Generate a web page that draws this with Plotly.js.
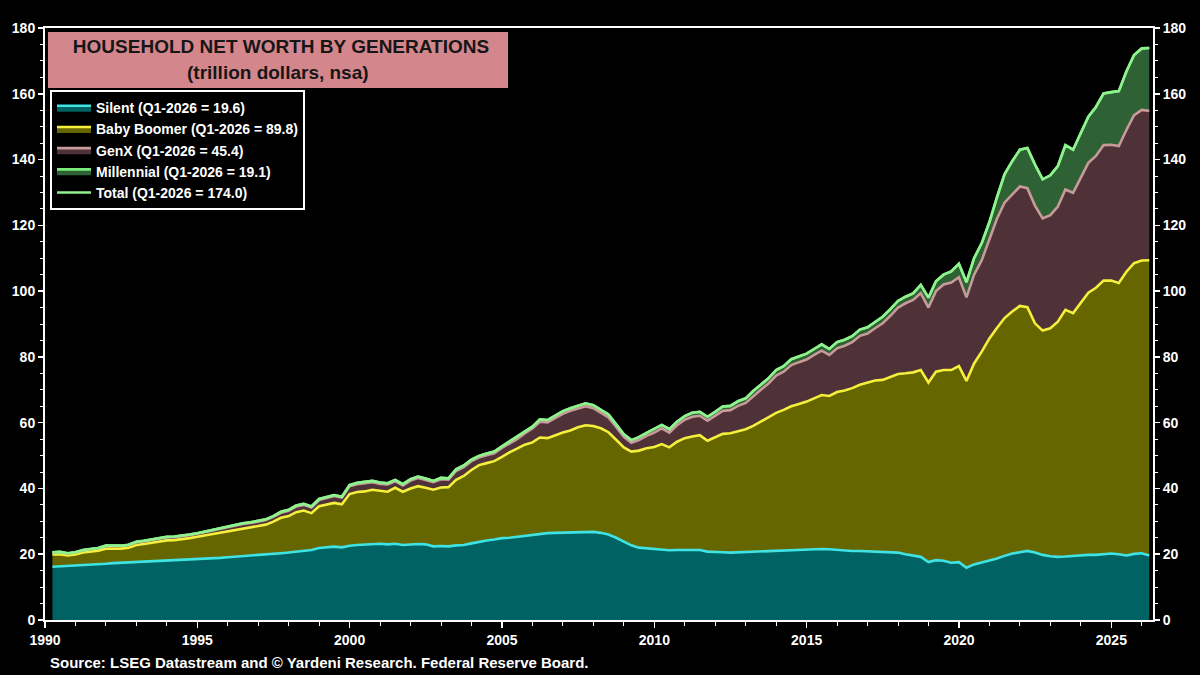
<!DOCTYPE html>
<html>
<head>
<meta charset="utf-8">
<script src="https://cdn.plot.ly/plotly-3.0.1.min.js"></script>
<style>
  html, body { margin: 0; padding: 0; background: #000; }
  #chart { width: 1200px; height: 675px; }
</style>
</head>
<body>
<div id="chart"></div>
<script>
// Quarterly observations, Q1-1990 .. Q1-2026 (quarter-end dates)
const firstYear = 1990;
const lastYear = 2026;
const quarterEnds = ['03-31', '06-30', '09-30', '12-31'];

// Trillion dollars, nsa
const silent = [
  16.2,16.3,16.4,16.5, 16.7,16.9,17.0,17.1, 17.3,17.4,17.5,17.6, 17.8,17.9,18.0,18.1,
  18.2,18.3,18.4,18.5, 18.6,18.8,18.9,19.1, 19.2,19.4,19.6,19.8, 19.9,20.1,20.3,20.5,
  20.8,21.2,21.3,21.9, 22.0,22.3,22.1,22.6, 22.8,23.0,23.2,23.2, 23.0,23.2,22.8,23.0,
  23.1,23.0,22.4,22.5, 22.4,22.7,22.8,23.3, 23.8,24.2,24.5,24.9, 25.0,25.3,25.5,25.8,
  26.1,26.4,26.5,26.6, 26.6,26.8,26.9,26.8, 26.5,26.0,25.0,23.8, 22.7,22.0,21.8,21.7,
  21.6,21.2,21.3,21.3, 21.3,21.3,20.8,20.8, 20.6,20.5,20.6,20.7, 20.7,20.8,20.9,21.0,
  21.2,21.4,21.5,21.6, 21.6,21.6,21.5,21.3, 21.1,21.0,21.0,20.9, 20.9,20.8,20.6,20.5,
  20.0,19.6,19.2,17.6, 18.2,18.0,17.4,17.6, 15.9,16.9,17.5,18.0, 18.7,19.5,20.2,20.6,
  21.0,20.5,19.8,19.4, 19.2,19.3,19.5,19.6, 19.8,19.8,20.0,20.2, 20.0,19.6,20.1,20.3,
  19.6
];
const babyBoomer = [
  3.7,3.7,3.2,3.4, 3.8,3.8,4.1,4.6, 4.4,4.3,4.5,5.2, 5.3,5.6,5.8,6.1,
  6.1,6.2,6.5,6.8, 7.1,7.3,7.7,7.9, 8.2,8.5,8.6,8.8, 9.1,9.8,10.8,11.1,
  12.0,12.1,11.2,12.7, 13.0,13.3,13.1,15.7, 16.1,16.1,16.4,16.1, 16.0,17.0,16.2,17.0,
  17.6,17.2,17.2,17.8, 18.0,19.9,21.0,22.3, 23.3,23.5,23.8,24.7, 26.0,26.8,27.8,28.2,
  29.4,28.9,29.7,30.4, 31.0,31.8,32.3,32.2, 31.8,31.1,29.8,28.7, 28.5,29.5,30.4,30.9,
  31.9,31.3,32.9,34.0, 34.5,34.9,33.7,34.8, 36.0,36.3,36.8,37.3, 38.3,39.5,40.6,42.0,
  42.7,43.6,44.2,44.8, 45.8,46.8,46.6,48.0, 48.7,49.5,50.5,51.3, 51.9,52.2,53.2,54.3,
  55.0,55.7,56.8,54.6, 57.3,58.0,58.6,59.6, 56.8,61.1,64.1,67.6, 70.1,72.3,73.6,74.9,
  74.1,69.7,68.2,69.3, 71.5,75.0,73.8,76.9, 79.7,81.2,83.2,83.0, 82.5,86.3,88.4,89.0,
  89.8
];
const genX = [
  0.6,0.6,0.6,0.6, 0.7,0.7,0.7,0.8, 0.8,0.8,0.8,0.8, 0.8,0.8,0.9,0.9,
  0.9,0.9,0.9,0.9, 1.0,1.0,1.1,1.2, 1.2,1.3,1.3,1.4, 1.4,1.5,1.5,1.6,
  1.7,1.7,1.7,1.9, 2.0,2.1,2.0,2.4, 2.4,2.4,2.3,2.1, 2.2,2.0,1.9,2.4,
  2.5,2.4,2.3,2.5, 2.3,2.7,2.7,2.7, 2.3,2.4,2.4,2.7, 2.6,2.9,3.4,4.2,
  4.8,4.8,5.2,5.7, 6.0,5.7,5.8,5.4, 4.8,4.5,3.9,3.2, 2.7,3.2,3.8,4.4,
  4.8,4.5,5.0,5.6, 6.0,5.9,6.1,6.4, 7.0,7.0,7.7,8.0, 9.1,9.7,10.4,11.3,
  11.6,12.5,12.7,12.8, 13.2,13.5,12.5,13.3, 13.6,14.0,14.9,14.9, 15.9,17.2,18.7,20.2,
  21.3,22.0,23.4,22.8, 24.5,26.0,26.6,27.0, 25.4,27.0,27.8,29.9, 33.2,35.1,35.7,36.3,
  36.2,35.8,34.1,34.4, 35.0,36.6,36.6,38.0, 39.5,40.1,41.2,41.3, 41.6,43.1,45.0,45.8,
  45.4
];
const millennial = [
  0.1,0.1,0.1,0.1, 0.1,0.1,0.1,0.1, 0.1,0.1,0.1,0.2, 0.2,0.2,0.2,0.2,
  0.2,0.2,0.2,0.2, 0.2,0.2,0.2,0.2, 0.2,0.2,0.2,0.2, 0.2,0.2,0.3,0.3,
  0.3,0.3,0.3,0.3, 0.3,0.3,0.3,0.3, 0.4,0.4,0.4,0.4, 0.4,0.4,0.4,0.4,
  0.4,0.4,0.4,0.4, 0.4,0.5,0.5,0.5, 0.5,0.5,0.5,0.5, 0.6,0.6,0.6,0.6,
  0.7,0.7,0.8,0.8, 0.8,0.9,0.9,0.9, 0.9,0.9,0.8,0.8, 0.8,0.9,0.9,1.0,
  1.0,1.0,1.1,1.1, 1.2,1.2,1.2,1.3, 1.3,1.3,1.4,1.4, 1.5,1.5,1.6,1.7,
  1.7,1.8,1.8,1.8, 1.8,1.9,1.8,1.9, 1.8,1.8,1.9,1.9, 1.9,2.0,2.0,2.0,
  2.0,2.0,2.5,3.0, 3.0,3.0,3.4,4.1, 4.6,5.0,5.2,5.5, 6.5,8.6,10.0,11.2,
  12.2,12.5,11.9,12.1, 12.3,13.5,13.1,13.5, 14.0,14.9,15.7,16.0, 16.7,17.8,18.3,18.7,
  19.1
];

const legendNames = [
  'Silent (Q1-2026 = 19.6)',
  'Baby Boomer (Q1-2026 = 89.8)',
  'GenX (Q1-2026 = 45.4)',
  'Millennial (Q1-2026 = 19.1)',
  'Total (Q1-2026 = 174.0)'
];
const titleLine1 = 'HOUSEHOLD NET WORTH BY GENERATIONS';
const titleLine2 = '(trillion dollars, nsa)';
const sourceText = 'Source: LSEG Datastream and \u00A9 Yardeni Research. Federal Reserve Board.';

// quarter-end dates
const dates = [];
for (let y = firstYear; y <= lastYear; y++) {
  for (let q = 0; q < 4; q++) {
    if (dates.length < silent.length) dates.push(y + '-' + quarterEnds[q]);
  }
}
const total = silent.map((v, i) => +(v + babyBoomer[i] + genX[i] + millennial[i]).toFixed(1));

const FONT = 'Arial, "Liberation Sans", Helvetica, sans-serif';

function area(name, y, line, fill) {
  return {
    type: 'scatter', mode: 'lines', x: dates, y: y, name: name,
    stackgroup: 'gen', fillcolor: fill,
    line: { color: line, width: 2.6, shape: 'linear' },
    hoverinfo: 'skip'
  };
}

const traces = [
  area(legendNames[0], silent, '#3fe3e3', '#006262'),
  area(legendNames[1], babyBoomer, '#f4f03c', '#666600'),
  area(legendNames[2], genX, '#c99a9a', '#4f3237'),
  area(legendNames[3], millennial, '#7aee7a', '#2e6134'),
  {
    type: 'scatter', mode: 'lines', x: dates, y: total, name: legendNames[4],
    line: { color: '#8ef28e', width: 2.6 }, hoverinfo: 'skip'
  },
  {
    type: 'scatter', mode: 'markers', x: [dates[0]], y: [0], yaxis: 'y2',
    marker: { opacity: 0 }, showlegend: false, hoverinfo: 'skip'
  }
];

const tickFont = { family: FONT, size: 14, color: '#ffffff', weight: 'bold' };

const yCommon = {
  range: [0, 180], dtick: 20, tick0: 0,
  ticks: 'outside', ticklen: 5, tickwidth: 1.5, tickcolor: '#ffffff',
  minor: { dtick: 5, ticklen: 3, tickwidth: 1, tickcolor: '#ffffff', ticks: 'outside' },
  showline: true, linecolor: '#ffffff', linewidth: 2,
  showgrid: false, zeroline: false, tickfont: tickFont, fixedrange: true
};

const layout = {
  width: 1200, height: 675,
  paper_bgcolor: '#000000', plot_bgcolor: '#000000',
  margin: { l: 45, r: 47, t: 28, b: 55 },
  hovermode: false,
  showlegend: true,
  title: {
    text: '<b>' + titleLine1 + '</b>',
    font: { family: FONT, size: 19, color: '#161616' },
    xref: 'container', yref: 'container',
    x: 281 / 1200, xanchor: 'center',
    y: 1 - 46 / 675, yanchor: 'middle'
  },
  legend: {
    x: 0.0045, y: 0.895, xanchor: 'left', yanchor: 'top',
    bgcolor: '#000000', bordercolor: '#ffffff', borderwidth: 2,
    font: { family: FONT, size: 14, color: '#ffffff', weight: 'bold' },
    traceorder: 'normal', itemwidth: 34, tracegroupgap: 0,
    entrywidth: 250, entrywidthmode: 'pixels'
  },
  xaxis: {
    type: 'date', range: ['1990-01-01', '2026-05-15'],
    tick0: '1990-01-01', dtick: 'M60', tickformat: '%Y',
    ticks: 'outside', ticklen: 6, tickwidth: 1.5, tickcolor: '#ffffff',
    minor: { dtick: 'M12', ticklen: 4, tickwidth: 1, tickcolor: '#ffffff', ticks: 'outside' },
    showline: true, linecolor: '#ffffff', linewidth: 2, mirror: true,
    showgrid: false, zeroline: false, tickfont: tickFont, fixedrange: true
  },
  yaxis: Object.assign({}, yCommon, { side: 'left' }),
  yaxis2: Object.assign({}, yCommon, { side: 'right', overlaying: 'y' }),
  shapes: [{
    type: 'rect', xref: 'paper', yref: 'paper',
    x0: 3 / 1108, x1: 463 / 1108, y0: (620 - 88) / 592, y1: (620 - 32) / 592,
    fillcolor: '#d4868d', line: { width: 0 }, layer: 'above'
  }],
  annotations: [
    {
      text: '<b>' + titleLine2 + '</b>', xref: 'paper', yref: 'paper',
      x: (278 - 45) / 1108, y: (620 - 73) / 592, xanchor: 'center', yanchor: 'middle',
      showarrow: false, font: { family: FONT, size: 19, color: '#161616' }
    },
    {
      text: '<b>' + sourceText + '</b>', xref: 'paper', yref: 'paper',
      x: 3 / 1108, y: (620 - 662) / 592, xanchor: 'left', yanchor: 'middle',
      showarrow: false, font: { family: FONT, size: 15, color: '#ffffff' }
    }
  ]
};

Plotly.newPlot('chart', traces, layout, { staticPlot: true, displayModeBar: false });
</script>
</body>
</html>
